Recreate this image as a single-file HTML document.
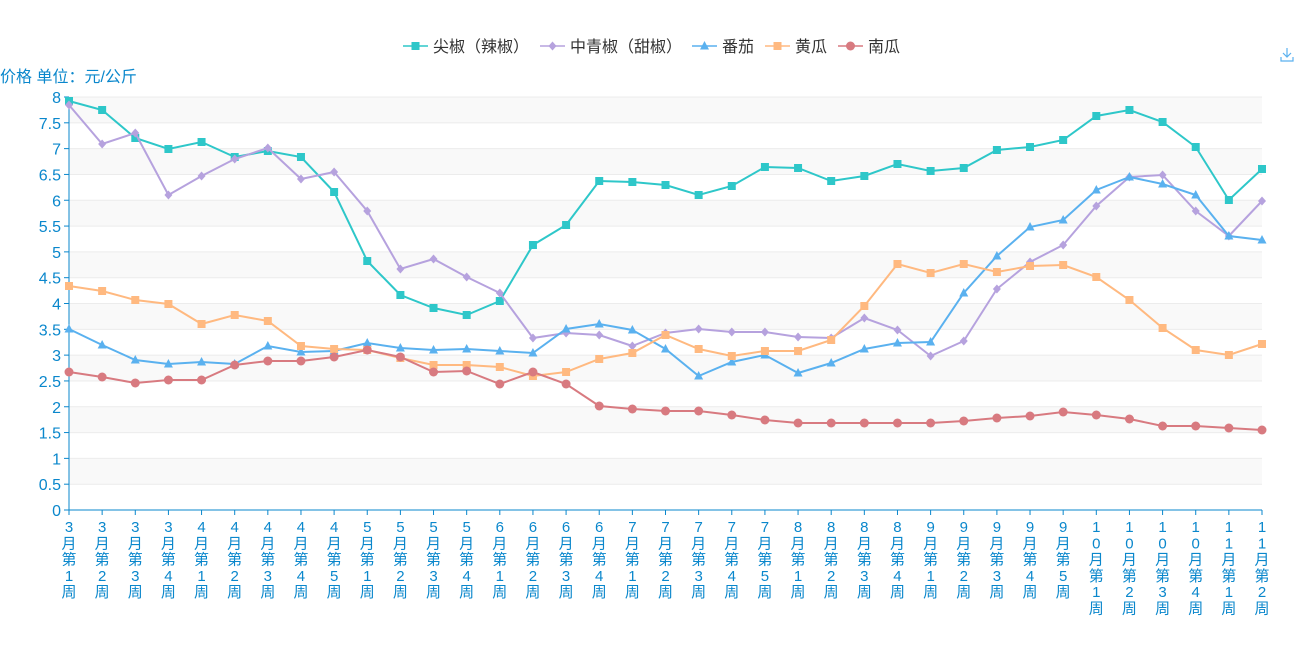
<!DOCTYPE html>
<html><head><meta charset="utf-8"><style>
body{margin:0;background:#fff;width:1300px;height:650px;overflow:hidden;font-family:"Liberation Sans","Noto Sans CJK SC",sans-serif}
</style></head><body>
<svg id="s" width="1300" height="650" xmlns="http://www.w3.org/2000/svg" font-family="Liberation Sans, Noto Sans CJK SC, sans-serif"></svg>
<script>
const s=document.getElementById('s');let h='';
const X0=69,X1=1262,Y0=510,Y8=97,n=37,dx=(X1-X0)/36,u=(Y0-Y8)/16;
for(let i=0;i<16;i++){const y=Y8+i*u;if(i%2==0)h+=`<rect x="${X0}" y="${y}" width="${X1-X0}" height="${u}" fill="#f9f9f9"/>`;}
for(let i=0;i<=16;i++){const y=Y8+i*u;h+=`<line x1="${X0}" x2="${X1}" y1="${y}" y2="${y}" stroke="#ececec"/>`;
 const v=(16-i)/2;h+=`<text x="61" y="${y+6}" text-anchor="end" font-size="16" fill="#0a87cc">${v}</text><line x1="64" x2="${X0}" y1="${y}" y2="${y}" stroke="#0a87cc"/>`;}
h+=`<line x1="${X0}" x2="${X0}" y1="${Y8}" y2="${Y0}" stroke="#0a87cc"/><line x1="${X0}" x2="${X1}" y1="${Y0}" y2="${Y0}" stroke="#0a87cc"/>`;
h+=`<text x="0" y="82" font-size="16" fill="#0a87cc">价格 单位：元/公斤</text>`;
const months=[[3,4],[4,5],[5,4],[6,4],[7,5],[8,4],[9,5],[10,4],[11,2]];let k=0;
for(const [m,c] of months)for(let w=1;w<=c;w++){const x=X0+k*dx;k++;
 const ch=[...String(m),'月','第',String(w),'周'];
 h+=`<line x1="${x}" x2="${x}" y1="${Y0}" y2="${Y0+5}" stroke="#0a87cc"/>`;
 ch.forEach((t,j)=>h+=`<text x="${x}" y="${Y0+22+j*16.3}" text-anchor="middle" font-size="15" fill="#0a87cc">${t}</text>`);}
const S=[
['#2ec7c9','sq',[101,110,138,149,142,157,151,157,192,261,295,308,315,301,245,225,181,182,185,195,186,167,168,181,176,164,171,168,150,147,140,116,110,122,147,200,169]],
['#b6a2de','di',[105,144,133,195,176,159,148,179,172,211,269,259,277,293,338,333,335,346,333,329,332,332,337,338,318,330,356,341,289,262,245,206,177,175,211,236,201]],
['#5ab1ef','tr',[329,345,360,364,362,364,346,352,351,343,348,350,349,351,353,329,324,330,349,376,362,355,373,363,349,343,342,293,256,227,220,190,177,184,195,236,240]],
['#ffb980','sq',[286,291,300,304,324,315,321,346,349,350,358,365,365,367,376,372,359,353,335,349,356,351,351,340,306,264,273,264,272,266,265,277,300,328,350,355,344]],
['#d87a80','ci',[372,377,383,380,380,365,361,361,357,350,357,372,371,384,372,384,406,409,411,411,415,420,423,423,423,423,423,421,418,416,412,415,419,426,426,428,430]]];
function mk(t,x,y,c){if(t=='sq')return `<rect x="${x-4}" y="${y-4}" width="8" height="8" fill="${c}"/>`;
 if(t=='di')return `<polygon points="${x},${y-4.5} ${x+4},${y} ${x},${y+4.5} ${x-4},${y}" fill="${c}"/>`;
 if(t=='tr')return `<polygon points="${x},${y-5} ${x+4.5},${y+3.5} ${x-4.5},${y+3.5}" fill="${c}"/>`;
 return `<circle cx="${x}" cy="${y}" r="4.5" fill="${c}"/>`;}
for(const [c,t,d] of S){h+=`<polyline fill="none" stroke="${c}" stroke-width="2" points="${d.map((y,i)=>(X0+i*dx)+','+y).join(' ')}"/>`;
 d.forEach((y,i)=>h+=mk(t,X0+i*dx,y,c));}
const L=[[403,'尖椒（辣椒）'],[540,'中青椒（甜椒）'],[692,'番茄'],[765,'黄瓜'],[838,'南瓜']];
L.forEach(([x,t],i)=>{const c=S[i][0];h+=`<line x1="${x}" x2="${x+25}" y1="46" y2="46" stroke="${c}" stroke-width="1.5"/>`+mk(S[i][1],x+12.5,46,c)+`<text x="${x+30}" y="52" font-size="16" fill="#333">${t}</text>`;});
h+=`<path d="M1287 48v9M1283 53l4 4 4-4M1281 57v4h12v-4" stroke="#5ab1ef" fill="none" stroke-width="1.2"/>`;
s.innerHTML=h;
</script>
</body></html>
